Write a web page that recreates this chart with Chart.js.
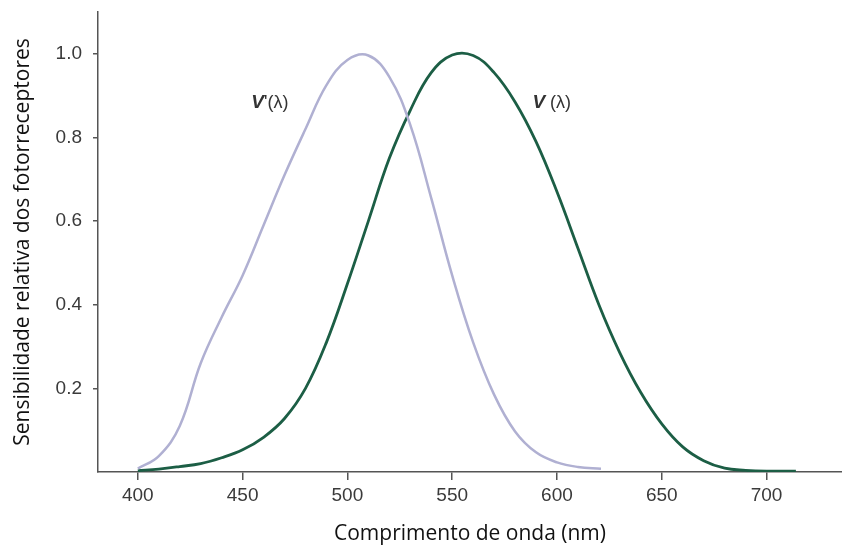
<!DOCTYPE html>
<html>
<head>
<meta charset="utf-8">
<script src="https://cdn.jsdelivr.net/npm/chart.js@4"></script>
<style>
  body { margin: 0; background: #fff; }
</style>
</head>
<body>
<canvas id="curves" width="842" height="547"></canvas>
<script>
// wavelengths (nm) and relative sensitivities
var scotopicNm = [400, 410, 420, 430, 440, 450, 460, 470, 480, 490, 500, 510, 520, 530, 540, 550, 560, 570, 580, 590, 600, 610, 621];
var scotopicV = [0.008, 0.038, 0.11, 0.26, 0.37, 0.47, 0.59, 0.71, 0.82, 0.925, 0.985, 0.996, 0.945, 0.83, 0.655, 0.47, 0.31, 0.185, 0.097, 0.047, 0.023, 0.012, 0.008];
var photopicNm = [400, 410, 420, 430, 440, 450, 460, 470, 480, 490, 500, 510, 520, 530, 540, 550, 560, 570, 580, 590, 600, 610, 620, 630, 640, 650, 660, 670, 680, 690, 700, 714];
var photopicV = [0.003, 0.007, 0.013, 0.02, 0.034, 0.053, 0.083, 0.128, 0.2, 0.31, 0.45, 0.6, 0.75, 0.865, 0.955, 0.997, 0.996, 0.955, 0.885, 0.79, 0.67, 0.535, 0.4, 0.285, 0.19, 0.115, 0.06, 0.027, 0.009, 0.004, 0.002, 0.002];
var xTicks = [400, 450, 500, 550, 600, 650, 700];
var yTicks = [0.2, 0.4, 0.6, 0.8, 1.0];

function points(xs, ys) {
	return xs.map(function(x, i) { return {x: x, y: ys[i]}; });
}

var axisColor = '#555555';
var tickFont = {family: 'Liberation Sans', size: 19};
var titleFont = {family: 'Open Sans', size: 21};

// curve names written next to each curve
var curveLabels = {
	id: 'curveLabels',
	afterDatasetsDraw: function(chart) {
		var ctx = chart.ctx;
		var xs = chart.scales.x, ys = chart.scales.y;
		function put(nm, val, rest) {
			var x = xs.getPixelForValue(nm), y = ys.getPixelForValue(val);
			ctx.save();
			ctx.fillStyle = '#333333';
			ctx.textBaseline = 'middle';
			ctx.font = 'italic bold 19px "Liberation Sans"';
			var w1 = ctx.measureText('V').width;
			ctx.font = '18px "Liberation Sans"';
			var w2 = ctx.measureText(rest).width;
			var left = x - (w1 + w2) / 2;
			ctx.font = 'italic bold 19px "Liberation Sans"';
			ctx.fillText('V', left, y);
			ctx.font = '18px "Liberation Sans"';
			ctx.fillText(rest, left + w1, y);
			ctx.restore();
		}
		put(463, 0.883, "'(λ)");
		put(597.5, 0.883, ' (λ)');
	}
};

var ctx = document.getElementById('curves').getContext('2d');
var chart = new Chart(ctx, {
	type: 'line',
	data: {
		datasets: [{
			label: "V'(λ)",
			data: points(scotopicNm, scotopicV),
			borderColor: '#b0b0d2',
			borderWidth: 2.5,
			pointRadius: 0,
			tension: 0.4
		}, {
			label: 'V(λ)',
			data: points(photopicNm, photopicV),
			borderColor: '#1c5e45',
			borderWidth: 2.8,
			pointRadius: 0,
			tension: 0.4
		}]
	},
	options: {
		responsive: false,
		animation: false,
		layout: {padding: {top: 12, right: 0, left: 0, bottom: 0}},
		plugins: {legend: {display: false}, tooltip: {enabled: false}},
		scales: {
			x: {
				type: 'linear',
				min: 381,
				max: 736,
				afterBuildTicks: function(s) { s.ticks = xTicks.map(function(v) { return {value: v}; }); },
				afterFit: function(s) { s.height = 75; s.paddingLeft = 0; s.paddingRight = 0; },
				border: {display: true, color: axisColor, width: 1.5},
				grid: {drawOnChartArea: false, drawTicks: true, tickLength: 8, color: axisColor, lineWidth: 1.5},
				ticks: {color: '#3a3a3a', font: tickFont, padding: 4, maxRotation: 0},
				title: {display: true, text: 'Comprimento de onda (nm)', color: '#111', font: titleFont, padding: {top: 0, bottom: 0}}
			},
			y: {
				min: 0,
				max: 1.1,
				afterBuildTicks: function(s) { s.ticks = yTicks.map(function(v) { return {value: v}; }); },
				afterFit: function(s) { s.width = 98; s.paddingTop = 0; s.paddingBottom = 0; },
				border: {display: true, color: axisColor, width: 1.5},
				grid: {drawOnChartArea: false, drawTicks: true, tickLength: 5, color: axisColor, lineWidth: 1.5},
				ticks: {color: '#3a3a3a', font: tickFont, padding: 11, callback: function(v) { return v.toFixed(1); }},
				title: {display: true, text: 'Sensibilidade relativa dos fotorreceptores', color: '#111', font: titleFont, padding: {top: 10, bottom: 0}}
			}
		}
	},
	plugins: [curveLabels]
});
</script>
</body>
</html>
